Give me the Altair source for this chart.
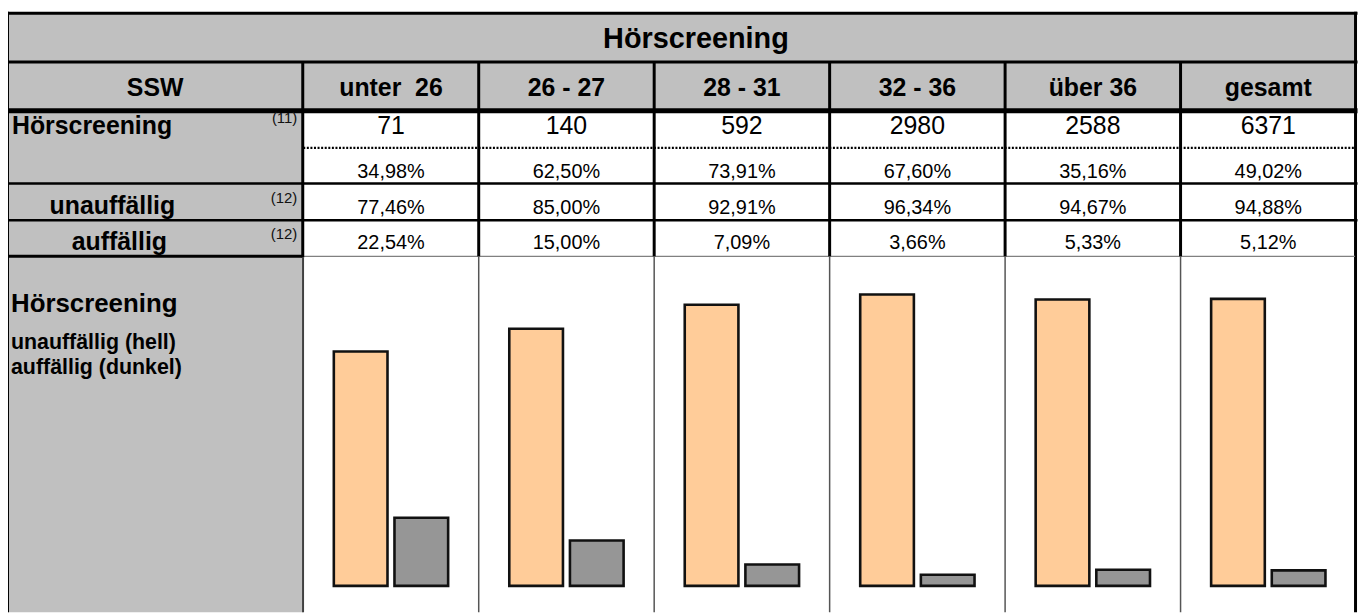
import altair as alt
import pandas as pd

# ---------------- data ----------------
categories = ["unter  26", "26 - 27", "28 - 31", "32 - 36", "über 36", "gesamt"]
screened = [71, 140, 592, 2980, 2588, 6371]
screened_pct = [34.98, 62.50, 73.91, 67.60, 35.16, 49.02]
unauff_pct = [77.46, 85.00, 92.91, 96.34, 94.67, 94.88]
auff_pct = [22.54, 15.00, 7.09, 3.66, 5.33, 5.12]
series = ["unauffällig", "auffällig"]
title_text = "Hörscreening"
header_label = "SSW"
row_labels = ["Hörscreening", "unauffällig", "auffällig"]
row_notes = ["(11)", "(12)", "(12)"]
legend_lines = ["Hörscreening", "unauffällig (hell)", "auffällig (dunkel)"]

# ---------------- layout (page pixel coordinates) ----------------
W, H = 1360, 606
OX, OY = 8, 8
col_edges = [305, 481.5, 658, 834.5, 1011, 1187.5, 1364]
col_centers = [(a + b) / 2 for a, b in zip(col_edges[:-1], col_edges[1:])]
FONT = "Liberation Sans"
GRAY_BG = "#C0C0C0"

xs = alt.Scale(domain=[OX, OX + W], range=[0, W], nice=False, zero=False)
ys = alt.Scale(domain=[OY, OY + H], range=[0, H], nice=False, zero=False)


def pct(v):
    return f"{v:.2f}".replace(".", ",") + "%"


def keep_spaces(s):
    # SVG collapses repeated spaces; keep them visible
    return s.replace("  ", "\u00a0 ")


# backgrounds
bg = pd.DataFrame([
    dict(x=8, x2=1364, y=12, y2=60, c=GRAY_BG),
    dict(x=8, x2=1364, y=60, y2=109, c=GRAY_BG),
    dict(x=8, x2=305, y=109, y2=OY + H, c=GRAY_BG),
])
bg_layer = alt.Chart(bg).mark_rect().encode(
    x=alt.X("x:Q", scale=xs, axis=None), x2="x2:Q",
    y=alt.Y("y:Q", scale=ys, axis=None), y2="y2:Q",
    color=alt.Color("c:N", scale=None),
)

# grid lines
rules = [
    dict(x=6, x2=1365.5, y=11.5, y2=11.5, sw=3, c="black"),
    dict(x=7.5, x2=7.5, y=10, y2=OY + H, sw=3, c="black"),
    dict(x=1363.5, x2=1363.5, y=10, y2=OY + H, sw=3, c="black"),
    dict(x=6, x2=1365.5, y=60.5, y2=60.5, sw=3, c="black"),
    dict(x=6, x2=1365.5, y=109.5, y2=109.5, sw=5, c="black"),
    dict(x=6, x2=1365.5, y=182.8, y2=182.8, sw=2.5, c="black"),
    dict(x=6, x2=1365.5, y=219.8, y2=219.8, sw=2.5, c="black"),
    dict(x=6, x2=305, y=256, y2=256, sw=3, c="black"),
    dict(x=305, x2=1363, y=256, y2=256, sw=1.2, c="#808080"),
    dict(x=304.5, x2=304.5, y=60, y2=257, sw=3, c="black"),
    dict(x=304.8, x2=304.8, y=257, y2=OY + H, sw=2, c="#404040"),
]
for e in col_edges[1:-1]:
    rules.append(dict(x=e, x2=e, y=60, y2=256, sw=3, c="black"))
    rules.append(dict(x=e, x2=e, y=256, y2=OY + H, sw=1.5, c="#555555"))
rules_df = pd.DataFrame(rules)
rule_layer = alt.Chart(rules_df).mark_rule().encode(
    x=alt.X("x:Q", scale=xs, axis=None), x2="x2:Q",
    y=alt.Y("y:Q", scale=ys, axis=None), y2="y2:Q",
    strokeWidth=alt.StrokeWidth("sw:Q", scale=None),
    color=alt.Color("c:N", scale=None),
)

dot_df = pd.DataFrame([dict(x=305, x2=1364, y=147, y2=147)])
dot_layer = alt.Chart(dot_df).mark_rule(strokeDash=[2, 1.6], strokeWidth=2.2, color="black").encode(
    x=alt.X("x:Q", scale=xs, axis=None), x2="x2:Q",
    y=alt.Y("y:Q", scale=ys, axis=None), y2="y2:Q",
)


def text_layer(rows, size, weight="normal", align="center", color="black"):
    df = pd.DataFrame(rows)
    return alt.Chart(df).mark_text(
        font=FONT, fontSize=size, fontWeight=weight, align=align,
        baseline="alphabetic", color=color,
    ).encode(
        x=alt.X("x:Q", scale=xs, axis=None),
        y=alt.Y("y:Q", scale=ys, axis=None),
        text="t:N",
    )


title_layer = text_layer([dict(x=700, y=46, t=title_text)], 29, "bold")
header_layer = text_layer(
    [dict(x=156, y=95, t=header_label)]
    + [dict(x=cx, y=95, t=keep_spaces(c)) for cx, c in zip(col_centers, categories)],
    25, "bold",
)
label_left = text_layer([dict(x=12, y=133, t=row_labels[0])], 25, "bold", align="left")
label_center = text_layer(
    [dict(x=113, y=213, t=row_labels[1]), dict(x=120, y=250, t=row_labels[2])],
    25, "bold",
)
notes_layer = text_layer(
    [dict(x=299, y=122, t=row_notes[0]), dict(x=299, y=202, t=row_notes[1]),
     dict(x=299, y=239, t=row_notes[2])],
    15, align="right", color="#111111",
)
count_layer = text_layer(
    [dict(x=cx, y=133, t=str(v)) for cx, v in zip(col_centers, screened)], 25
)
pct_rows = []
for cx, a, b, c in zip(col_centers, screened_pct, unauff_pct, auff_pct):
    pct_rows += [dict(x=cx, y=177, t=pct(a)), dict(x=cx, y=213, t=pct(b)),
                 dict(x=cx, y=249, t=pct(c))]
pct_layer = text_layer(pct_rows, 20)
legend_big = text_layer([dict(x=11, y=312, t=legend_lines[0])], 26, "bold", align="left")
legend_small = text_layer(
    [dict(x=11, y=349, t=legend_lines[1]), dict(x=11, y=374, t=legend_lines[2])],
    21.5, "bold", align="left",
)

# bars
bars_df = pd.DataFrame(
    [dict(cat=c, s=series[0], v=u) for c, u in zip(categories, unauff_pct)]
    + [dict(cat=c, s=series[1], v=a) for c, a in zip(categories, auff_pct)]
)
bar_layer = alt.Chart(bars_df).mark_bar(stroke="#111111", strokeWidth=2.6).encode(
    x=alt.X("cat:N", sort=categories, axis=None,
            scale=alt.Scale(domain=categories, range=[305 - OX, 1364 - OX],
                            paddingInner=0, paddingOuter=0)),
    xOffset=alt.XOffset("s:N", sort=series,
                        scale=alt.Scale(domain=series, paddingInner=0.115, paddingOuter=0.504)),
    y=alt.Y("v:Q", axis=None,
            scale=alt.Scale(domain=[0, 100], range=[587.5 - OY, 283.2 - OY], nice=False, zero=True)),
    color=alt.Color("s:N", legend=None,
                    scale=alt.Scale(domain=series, range=["#FFCC99", "#969696"])),
)

chart = alt.layer(
    bg_layer, rule_layer, dot_layer, title_layer, header_layer, label_left,
    label_center, notes_layer, count_layer, pct_layer, legend_big, legend_small,
    bar_layer,
).resolve_scale(
    x="independent", y="independent", color="independent"
).properties(
    width=W, height=H, padding=0, autosize=alt.AutoSizeParams(type="none"),
    background="white",
).configure_view(stroke=None)

chart.save("out.html", embed_options={"renderer": "svg", "actions": False})
